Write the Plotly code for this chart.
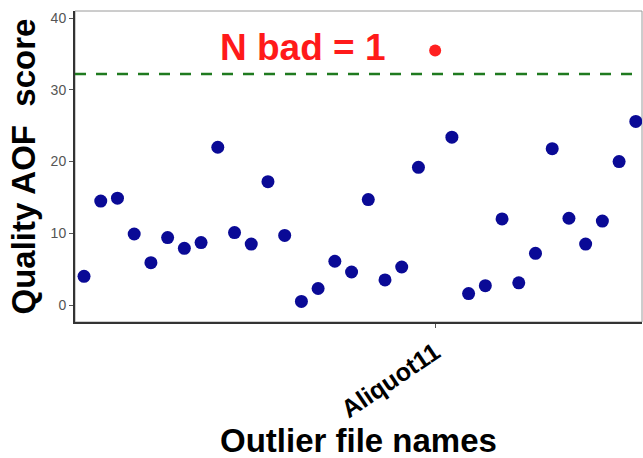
import plotly.graph_objects as go

file_names = ["F01", "F02", "F03", "F04", "F05", "F06", "F07", "F08", "F09", "F10",
              "F11", "F12", "F13", "F14", "F15", "F16", "F17", "F18", "F19", "F20",
              "F21", "Aliquot11", "F23", "F24", "F25", "F26", "F27", "F28", "F29", "F30",
              "F31", "F32", "F33", "F34"]
scores = [4.0, 14.5, 14.9, 9.9, 5.9, 9.4, 7.9, 8.7, 22.0, 10.1,
          8.5, 17.2, 9.7, 0.5, 2.3, 6.1, 4.6, 14.7, 3.5, 5.3,
          19.2, 35.5, 23.4, 1.6, 2.7, 12.0, 3.1, 7.2, 21.8, 12.1,
          8.5, 11.7, 20.0, 25.6]
threshold = 32.2
outlier_labels = ["Aliquot11"]
y_ticks = [0, 10, 20, 30, 40]

good_x = [n for n, s in zip(file_names, scores) if s <= threshold]
good_y = [s for s in scores if s <= threshold]
bad_x = [n for n, s in zip(file_names, scores) if s > threshold]
bad_y = [s for s in scores if s > threshold]

FONT = "Liberation Sans, Arial, sans-serif"

fig = go.Figure()
fig.add_trace(go.Scatter(x=good_x, y=good_y, mode="markers",
                         marker=dict(color="#0a0a96", size=13), showlegend=False))
fig.add_trace(go.Scatter(x=bad_x, y=bad_y, mode="markers",
                         marker=dict(color="#ff2020", size=12), showlegend=False))

fig.add_shape(type="line", xref="paper", yref="y", x0=0, x1=1, y0=threshold, y1=threshold,
              line=dict(color="#1f7a1f", width=2.5, dash="11px,10px"))
# panel border (thin gray)
fig.add_shape(type="rect", xref="paper", yref="paper", x0=0, x1=1, y0=0, y1=1,
              line=dict(color="#9a9a9a", width=1), layer="below")

fig.add_annotation(x=13.07, y=35.9, xref="x", yref="y", text="<b>N bad = 1</b>",
                   showarrow=False, font=dict(family=FONT, size=37, color="#ff1a1a"),
                   xanchor="center", yanchor="middle")
fig.add_annotation(x=0, y=0.5, xref="paper", yref="paper", xshift=-52,
                   text="<b>Quality AOF  score</b>", textangle=-90, showarrow=False,
                   font=dict(family=FONT, size=33, color="black"),
                   xanchor="center", yanchor="middle")
fig.add_annotation(x=0.5, y=0, xref="paper", yref="paper", yshift=-118,
                   text="<b>Outlier file names</b>", showarrow=False,
                   font=dict(family=FONT, size=33, color="black"),
                   xanchor="center", yanchor="middle")

fig.update_xaxes(type="category", categoryorder="array", categoryarray=file_names,
                 range=[-0.54, 33.37], tickmode="array", tickvals=outlier_labels,
                 ticktext=["<b>" + t + "</b>" for t in outlier_labels],
                 tickangle=-34, tickfont=dict(family=FONT, size=25, color="black"),
                 ticks="outside", ticklen=4, tickcolor="#555555",
                 showline=True, linecolor="#333333", linewidth=2,
                 showgrid=False, zeroline=False)
fig.update_yaxes(range=[-2.37, 41.0], tickmode="array", tickvals=y_ticks,
                 tickfont=dict(family=FONT, size=14, color="#555555"),
                 ticks="outside", ticklen=4, tickcolor="#555555",
                 showline=True, linecolor="#333333", linewidth=2,
                 showgrid=False, zeroline=False)

fig.update_layout(width=643, height=458, margin=dict(l=75, r=1, t=11, b=136),
                  plot_bgcolor="white", paper_bgcolor="white",
                  font=dict(family=FONT))

fig.write_html("out.html")
